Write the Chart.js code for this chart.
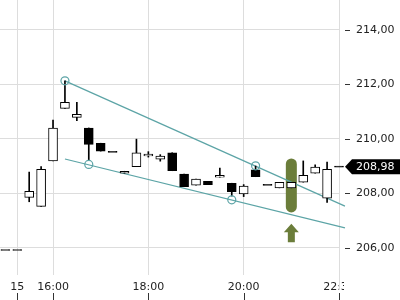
<!DOCTYPE html>
<html>
<head>
<meta charset="utf-8">
<script src="https://cdn.jsdelivr.net/npm/chart.js@4.4.0/dist/chart.umd.min.js"></script>
<style>
  html, body { margin: 0; padding: 0; background: #fff; }
</style>
</head>
<body>
<canvas id="chart" width="400" height="300"></canvas>
<script>
// 15-minute candles, index 0..28
const opens  = [205.92, 205.92, 207.85, 207.52, 209.19, 211.12, 210.79, 210.40, 209.84, 209.52,
                208.74, 208.98, 209.37, 209.25, 209.49, 208.71, 208.30, 208.44, 208.59, 208.37,
                207.98, 208.86, 208.31, 208.20, 208.20, 208.41, 208.74, 207.82, 208.98];
const highs  = [205.92, 205.92, 208.78, 208.98, 210.69, 212.13, 211.34, 210.40, 209.84, 209.52,
                208.81, 209.99, 209.53, 209.42, 209.49, 208.71, 208.52, 208.44, 208.93, 208.37,
                208.32, 209.00, 208.31, 208.40, 208.40, 209.19, 209.05, 209.15, 208.98];
const lows   = [205.92, 205.92, 207.69, 207.52, 209.19, 211.12, 210.67, 209.22, 209.55, 209.52,
                208.74, 208.98, 209.33, 209.18, 208.83, 208.24, 208.30, 208.32, 208.59, 207.90,
                207.88, 208.61, 208.31, 208.20, 208.20, 208.41, 208.74, 207.67, 208.98];
const closes = [205.92, 205.92, 208.07, 208.88, 210.40, 211.34, 210.90, 209.80, 209.55, 209.52,
                208.81, 209.49, 209.44, 209.37, 208.83, 208.24, 208.52, 208.32, 208.66, 208.06,
                208.27, 208.61, 208.31, 208.40, 208.40, 208.66, 208.96, 208.88, 208.98];

// x axis labels and the candle index they sit on
const tickIndex  = [1, 4, 12, 20, 28];
const tickLabels = ["15", "16:00", "18:00", "20:00", "22:30"];
const yTicks = [206, 208, 210, 212, 214];

// trend lines and touch points: [index, price]
const upperTrend = [[5, 212.13], [28.5, 207.53]];
const lowerTrend = [[5, 209.26], [28.5, 206.73]];
const touchPoints = [[5, 212.13], [7, 209.06], [19, 207.76], [21, 209.01]];

// signal marker
const signalIndex = 24;
const signalRange = [207.30, 209.28];
const arrowRange = [206.20, 206.88];

const TEAL = '#5ca4a6';
const OLIVE = '#6b7d3a';
const fmt = v => v.toFixed(2).replace('.', ',');

const wickData = [], bodyData = [], bodyColors = [];
opens.forEach((o, i) => {
  const c = closes[i];
  if (highs[i] > lows[i]) wickData.push({ x: i, y: [lows[i], highs[i]] });
  if (o === c) {
    bodyData.push({ x: i, y: [o - 0.018, o + 0.018] });
    bodyColors.push('#000');
  } else {
    bodyData.push({ x: i, y: [Math.min(o, c), Math.max(o, c)] });
    bodyColors.push(c > o ? '#fff' : '#000');
  }
});

const extras = {
  id: 'extras',
  beforeDraw(chart) {
    // last x label is cut at the plot edge
    const xs = chart.scales.x;
    if (!xs._clipWrapped) {
      const orig = xs.drawLabels;
      xs.drawLabels = function (area) {
        const ctx = this.ctx;
        ctx.save();
        ctx.beginPath();
        ctx.rect(0, 0, chart.chartArea.right + 5, chart.height);
        ctx.clip();
        orig.call(this, area);
        ctx.restore();
      };
      xs._clipWrapped = true;
    }
  },
  beforeDatasetsDraw(chart) {
    const { ctx, scales: { x, y } } = chart;
    const cx = x.getPixelForValue(signalIndex);
    const top = y.getPixelForValue(signalRange[1]);
    const bot = y.getPixelForValue(signalRange[0]);
    const w = 11, r = 5.5;
    ctx.save();
    ctx.fillStyle = OLIVE;
    ctx.beginPath();
    ctx.moveTo(cx - w / 2, top + r);
    ctx.arc(cx, top + r, r, Math.PI, 0);
    ctx.lineTo(cx + w / 2, bot - r);
    ctx.arc(cx, bot - r, r, 0, Math.PI);
    ctx.closePath();
    ctx.fill();
    ctx.restore();
  },
  afterDraw(chart) {
    const { ctx, chartArea, scales: { x, y } } = chart;
    ctx.save();

    // arrow under the signal
    const ax = x.getPixelForValue(signalIndex);
    const tip = y.getPixelForValue(arrowRange[1]);
    const end = y.getPixelForValue(arrowRange[0]);
    const headBase = tip + 8.5;
    ctx.fillStyle = OLIVE;
    ctx.beginPath();
    ctx.moveTo(ax, tip);
    ctx.lineTo(ax + 7.5, headBase);
    ctx.lineTo(ax + 3.5, headBase);
    ctx.lineTo(ax + 3.5, end);
    ctx.lineTo(ax - 3.5, end);
    ctx.lineTo(ax - 3.5, headBase);
    ctx.lineTo(ax - 7.5, headBase);
    ctx.closePath();
    ctx.fill();

    // right border runs a little into the x label row
    ctx.strokeStyle = '#dddddd';
    ctx.lineWidth = 1;
    const bx = Math.round(chartArea.right) + 0.5;
    ctx.beginPath();
    ctx.moveTo(bx, chartArea.bottom);
    ctx.lineTo(bx, chartArea.bottom + 15);
    ctx.stroke();

    // small tick marks
    ctx.strokeStyle = '#333';
    ctx.beginPath();
    tickIndex.forEach(t => {
      const px = Math.round(x.getPixelForValue(t)) + 0.5;
      ctx.moveTo(px, 293);
      ctx.lineTo(px, 300);
    });
    yTicks.forEach(t => {
      const py = Math.round(y.getPixelForValue(t)) + 0.5;
      ctx.moveTo(chartArea.right + 6, py);
      ctx.lineTo(chartArea.right + 11, py);
    });
    ctx.stroke();

    // last price tag
    const last = closes[closes.length - 1];
    const py = y.getPixelForValue(last);
    const left = chartArea.right + 6;
    ctx.fillStyle = '#000';
    ctx.beginPath();
    ctx.moveTo(left, py);
    ctx.lineTo(left + 7, py - 7.5);
    ctx.lineTo(400, py - 7.5);
    ctx.lineTo(400, py + 7.5);
    ctx.lineTo(left + 7, py + 7.5);
    ctx.closePath();
    ctx.fill();
    ctx.fillStyle = '#fff';
    ctx.font = '11px "DejaVu Sans"';
    ctx.textBaseline = 'middle';
    ctx.textAlign = 'left';
    ctx.fillText(fmt(last), chartArea.right + 17, py + 0.5);

    ctx.restore();
  }
};

new Chart(document.getElementById('chart'), {
  type: 'bar',
  data: {
    datasets: [
      {
        type: 'line',
        data: upperTrend.map(p => ({ x: p[0], y: p[1] })),
        borderColor: TEAL,
        borderWidth: 1.2,
        pointRadius: 0,
        clip: false,
        order: 4
      },
      {
        type: 'line',
        data: lowerTrend.map(p => ({ x: p[0], y: p[1] })),
        borderColor: TEAL,
        borderWidth: 1.2,
        pointRadius: 0,
        clip: false,
        order: 4
      },
      {
        data: wickData,
        backgroundColor: '#000',
        barThickness: 1,
        grouped: false,
        clip: false,
        order: 3
      },
      {
        data: bodyData,
        backgroundColor: bodyColors,
        borderColor: '#000',
        borderWidth: 1,
        borderSkipped: false,
        barThickness: 9,
        grouped: false,
        clip: false,
        order: 2
      },
      {
        type: 'line',
        data: touchPoints.map(p => ({ x: p[0], y: p[1] })),
        showLine: false,
        pointRadius: 4,
        pointBorderWidth: 1.2,
        pointBorderColor: TEAL,
        pointBackgroundColor: 'rgba(0,0,0,0)',
        order: 1
      }
    ]
  },
  options: {
    responsive: false,
    animation: false,
    layout: { padding: 0, autoPadding: false },
    plugins: { legend: { display: false }, tooltip: { enabled: false } },
    scales: {
      x: {
        type: 'linear',
        min: -0.45,
        max: 28,
        offset: false,
        grid: { color: '#dddddd', drawTicks: false, offset: false },
        border: { display: false },
        afterBuildTicks: s => { s.ticks = tickIndex.map(v => ({ value: v })); },
        afterFit: s => { s.height = 25; s.paddingLeft = 0; s.paddingRight = 0; },
        ticks: {
          padding: 6,
          maxRotation: 0,
          autoSkip: false,
          color: '#222',
          font: { family: 'DejaVu Sans', size: 11 },
          callback: v => tickLabels[tickIndex.indexOf(v)]
        }
      },
      y: {
        position: 'right',
        min: 205.0,
        max: 215.1,
        grid: { color: '#dddddd', drawTicks: false },
        border: { display: false },
        afterBuildTicks: s => { s.ticks = yTicks.map(v => ({ value: v })); },
        afterFit: s => { s.width = 61; s.paddingTop = 0; s.paddingBottom = 0; },
        ticks: {
          padding: 17,
          color: '#222',
          font: { family: 'DejaVu Sans', size: 11 },
          callback: v => fmt(v)
        }
      }
    }
  },
  plugins: [extras]
});
</script>
</body>
</html>
